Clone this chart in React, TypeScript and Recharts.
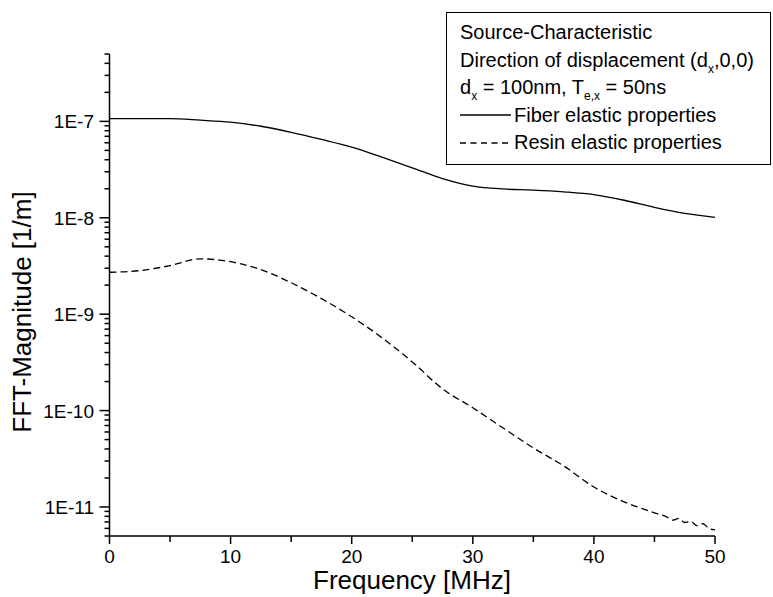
import React from "react";
import { LineChart, Line, XAxis, YAxis } from "recharts";

// Fiber elastic properties (solid)
const fiberFreq = [0, 2.5, 5, 7.5, 10, 12.5, 15, 17.5, 20, 22.5, 25, 27.5, 30, 32.5, 35, 37.5, 40, 42.5, 45, 47.5, 50];
const fiberVals = [
    1.07e-7, 1.07e-7, 1.07e-7, 1.03e-7, 9.8e-8, 8.9e-8, 7.7e-8, 6.5e-8, 5.4e-8, 4.25e-8, 3.3e-8,
    2.55e-8, 2.13e-8, 1.99e-8, 1.94e-8, 1.86e-8, 1.74e-8, 1.52e-8, 1.28e-8, 1.11e-8, 1.01e-8,
];

// Resin elastic properties (dashed)
const resinFreq = [0, 2.5, 5, 7.5, 10, 12.5, 15, 17.5, 20, 22.5, 25, 27.5, 30, 32.5, 35, 37.5, 40, 42.5, 44, 45, 46, 46.5, 47, 47.5, 48, 48.5, 49, 49.5, 50];
const resinVals = [
    2.72e-9, 2.83e-9, 3.19e-9, 3.75e-9, 3.5e-9, 2.9e-9, 2.12e-9, 1.45e-9, 9.4e-10, 5.7e-10, 3.2e-10,
    1.68e-10, 1.07e-10, 6.6e-11, 4.1e-11, 2.67e-11, 1.61e-11, 1.13e-11, 9.6e-12, 8.7e-12, 7.9e-12,
    7.3e-12, 7.6e-12, 6.9e-12, 7.1e-12, 6.4e-12, 6.7e-12, 6.0e-12, 5.8e-12,
];

const xMajor = [0, 10, 20, 30, 40, 50];
const xTicks = [0, 5, 10, 15, 20, 25, 30, 35, 40, 45, 50];
const yMajorLabels: Record<string, string> = {
    "1e-7": "1E-7",
    "1e-8": "1E-8",
    "1e-9": "1E-9",
    "1e-10": "1E-10",
    "1e-11": "1E-11",
};
const yTicks = [
    5e-12, 6e-12, 7e-12, 8e-12, 9e-12,
    1e-11, 2e-11, 3e-11, 4e-11, 5e-11, 6e-11, 7e-11, 8e-11, 9e-11,
    1e-10, 2e-10, 3e-10, 4e-10, 5e-10, 6e-10, 7e-10, 8e-10, 9e-10,
    1e-9, 2e-9, 3e-9, 4e-9, 5e-9, 6e-9, 7e-9, 8e-9, 9e-9,
    1e-8, 2e-8, 3e-8, 4e-8, 5e-8, 6e-8, 7e-8, 8e-8, 9e-8,
    1e-7, 2e-7, 3e-7, 4e-7, 5e-7,
];

const fiberData = fiberFreq.map((f, i) => ({ f, v: fiberVals[i] }));
const resinData = resinFreq.map((f, i) => ({ f, v: resinVals[i] }));

const FONT = "Arial, 'Liberation Sans', sans-serif";

const XTick = (props: any) => {
    const { x, y, payload } = props;
    const major = xMajor.includes(payload.value);
    return (
        <g>
            <line x1={x} y1={y} x2={x} y2={y + (major ? 8 : 6)} stroke="#000" strokeWidth={1.5} />
            {major && (
                <text x={x} y={y + 27} textAnchor="middle" fontSize={19} fontFamily={FONT} fill="#000">
                    {payload.value}
                </text>
            )}
        </g>
    );
};

const YTick = (props: any) => {
    const { x, y, payload } = props;
    const label = yMajorLabels[String(payload.value)];
    return (
        <g>
            <line x1={x} y1={y} x2={x - (label ? 10 : 5)} y2={y} stroke="#000" strokeWidth={1.5} />
            {label && (
                <text x={x - 15.5} y={y + 7} textAnchor="end" fontSize={19} fontFamily={FONT} fill="#000">
                    {label}
                </text>
            )}
        </g>
    );
};

const Sub = ({ children }: { children: React.ReactNode }) => (
    <span style={{ fontSize: 12, position: "relative", top: 6, lineHeight: 0 }}>{children}</span>
);

const rowStyle: React.CSSProperties = { height: 27.5, lineHeight: "27.5px", whiteSpace: "nowrap" };

export default function App() {
    return (
        <div style={{ position: "absolute", left: 0, top: 0, width: 773, height: 597, background: "#fff", fontFamily: FONT }}>
            <LineChart width={773} height={597} margin={{ top: 54, right: 58, bottom: 0, left: 0 }}>
                <XAxis
                    dataKey="f"
                    type="number"
                    domain={[0, 50]}
                    ticks={xTicks}
                    height={61}
                    tickSize={0}
                    tickMargin={0}
                    tickLine={false}
                    axisLine={{ stroke: "#000", strokeWidth: 1.5 }}
                    tick={<XTick />}
                    allowDuplicatedCategory={false}
                />
                <YAxis
                    dataKey="v"
                    scale="log"
                    domain={[5e-12, 5e-7]}
                    allowDataOverflow
                    ticks={yTicks}
                    interval={0}
                    width={109.5}
                    tickSize={0}
                    tickMargin={0}
                    tickLine={false}
                    axisLine={{ stroke: "#000", strokeWidth: 1.5 }}
                    tick={<YTick />}
                />
                <Line
                    data={fiberData}
                    dataKey="v"
                    type="monotone"
                    stroke="#000"
                    strokeWidth={1.3}
                    dot={false}
                    isAnimationActive={false}
                />
                <Line
                    data={resinData}
                    dataKey="v"
                    type="monotone"
                    stroke="#000"
                    strokeWidth={1.3}
                    strokeDasharray="7 4"
                    dot={false}
                    isAnimationActive={false}
                />
            </LineChart>

            <svg width={773} height={597} style={{ position: "absolute", left: 0, top: 0, pointerEvents: "none" }}>
                <text x={412} y={589} textAnchor="middle" fontSize={26} fontFamily={FONT} fill="#000">
                    Frequency [MHz]
                </text>
                <text
                    x={0}
                    y={0}
                    transform="translate(31 312) rotate(-90)"
                    textAnchor="middle"
                    fontSize={26}
                    fontFamily={FONT}
                    fill="#000"
                >
                    FFT-Magnitude [1/m]
                </text>
            </svg>

            <div
                style={{
                    position: "absolute",
                    left: 446,
                    top: 12,
                    width: 325,
                    height: 153,
                    border: "1px solid #000",
                    boxSizing: "border-box",
                    fontSize: 20,
                    paddingLeft: 13,
                    paddingTop: 6,
                    color: "#000",
                    background: "#fff",
                }}
            >
                <div style={rowStyle}>Source-Characteristic</div>
                <div style={rowStyle}>
                    Direction of displacement (d<Sub>x</Sub>,0,0)
                </div>
                <div style={rowStyle}>
                    d<Sub>x</Sub> = 100nm, T<Sub>e,x</Sub> = 50ns
                </div>
                <div style={{ ...rowStyle, display: "flex", alignItems: "center" }}>
                    <svg width={52} height={10} style={{ marginRight: 2 }}>
                        <line x1={0} y1={5} x2={51} y2={5} stroke="#000" strokeWidth={1.5} />
                    </svg>
                    Fiber elastic properties
                </div>
                <div style={{ ...rowStyle, display: "flex", alignItems: "center" }}>
                    <svg width={52} height={10} style={{ marginRight: 2 }}>
                        <line x1={0} y1={5} x2={51} y2={5} stroke="#000" strokeWidth={1.3} strokeDasharray="6 4.5" />
                    </svg>
                    Resin elastic properties
                </div>
            </div>
        </div>
    );
}
